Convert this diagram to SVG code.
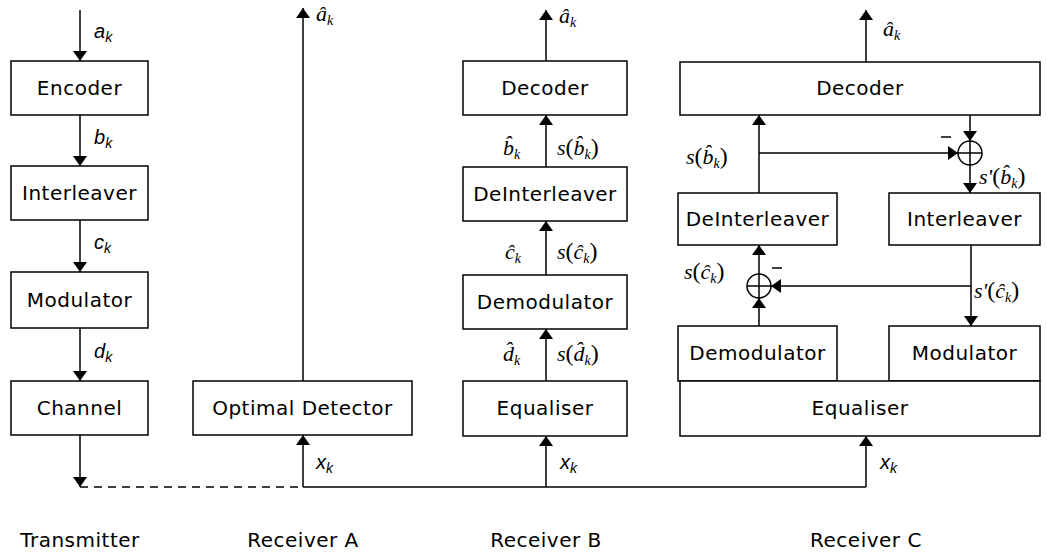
<svg xmlns="http://www.w3.org/2000/svg" width="1047" height="556" viewBox="0 0 1047 556">
<style>
.box{fill:#fff;stroke:#000;stroke-width:1.5}
.ln{fill:none;stroke:#000;stroke-width:1.5}
.ar{fill:none;stroke:#000;stroke-width:1.5;marker-end:url(#ah)}
.t{font-family:"DejaVu Sans",sans-serif;font-size:20px;letter-spacing:0.5px;text-anchor:middle;fill:#000}
.cap{font-family:"DejaVu Sans",sans-serif;font-size:20px;letter-spacing:0.5px;text-anchor:middle;fill:#000}
.v{font-family:"Liberation Sans",sans-serif;font-style:italic;font-size:20px;fill:#000}
.m{font-family:"Liberation Serif",serif;font-style:italic;font-size:22px;fill:#000}
.p{font-style:normal;font-size:24px}
.s{font-size:14px}
</style>
<defs>
<marker id="ah" viewBox="0 0 10 14" refX="10" refY="7" markerWidth="10" markerHeight="14" markerUnits="userSpaceOnUse" orient="auto">
<path d="M0,0 L10,7 L0,14 z" fill="#000"/>
</marker>
</defs>

<g id="connectors">
<path class="ar" d="M80,10 V61"/>
<path class="ar" d="M80,115 V166"/>
<path class="ar" d="M80,220 V272"/>
<path class="ar" d="M80,328 V381"/>
<path class="ar" d="M80,435 V487"/>
<path class="ln" d="M80,487 H303" stroke-dasharray="8,6"/>
<path class="ar" d="M303,487 V435"/>
<path class="ar" d="M303,381 V8"/>
<path class="ln" d="M303,487 H866"/>
<path class="ar" d="M546,487 V436"/>
<path class="ar" d="M546,381 V329"/>
<path class="ar" d="M546,275 V221"/>
<path class="ar" d="M546,167 V115"/>
<path class="ar" d="M546,61 V10"/>
<path class="ar" d="M866,487 V436"/>
<path class="ar" d="M866,62 V10"/>
<path class="ar" d="M759,326 V298"/>
<path class="ar" d="M759,274 V245"/>
<path class="ar" d="M971,245 V326"/>
<path class="ar" d="M971,286 H771"/>
<path class="ar" d="M759,193 V115"/>
<path class="ar" d="M759,153 H958"/>
<path class="ar" d="M970,115 V141"/>
<path class="ar" d="M970,165 V193"/>
<circle class="ln" cx="759" cy="286" r="12"/>
<path class="ln" d="M747,286 H771 M759,274 V298"/>
<path class="ln" d="M772,268 H782"/>
<circle class="ln" cx="970" cy="153" r="12"/>
<path class="ln" d="M958,153 H982 M970,141 V165"/>
<path class="ln" d="M941,137 H951"/>
</g>

<g id="transmitter">
<g id="encoder"><rect class="box" x="11" y="61" width="137" height="54"/><text class="t" x="79.5" y="95">Encoder</text></g>
<g id="interleaver"><rect class="box" x="11" y="166" width="137" height="54"/><text class="t" x="79.5" y="200">Interleaver</text></g>
<g id="modulator"><rect class="box" x="11" y="272" width="137" height="56"/><text class="t" x="79.5" y="307">Modulator</text></g>
<g id="channel"><rect class="box" x="11" y="381" width="137" height="54"/><text class="t" x="79.5" y="415">Channel</text></g>
<text class="v" x="94" y="38">a<tspan class="s" dy="4">k</tspan></text>
<text class="v" x="94" y="144">b<tspan class="s" dy="4">k</tspan></text>
<text class="v" x="94" y="249">c<tspan class="s" dy="4">k</tspan></text>
<text class="v" x="94" y="358">d<tspan class="s" dy="4">k</tspan></text>
</g>

<g id="receiverA">
<g id="optimal-detector"><rect class="box" x="193" y="381" width="219" height="54"/><text class="t" x="302.5" y="415">Optimal Detector</text></g>
<text class="v" x="316" y="469">x<tspan class="s" dy="4">k</tspan></text>
<text class="m" x="316" y="21">â<tspan class="s" dy="4">k</tspan></text>
</g>

<g id="receiverB">
<g id="decoderB"><rect class="box" x="463" y="61" width="164" height="54"/><text class="t" x="545" y="95">Decoder</text></g>
<g id="deinterleaverB"><rect class="box" x="463" y="167" width="164" height="54"/><text class="t" x="545" y="201">DeInterleaver</text></g>
<g id="demodulatorB"><rect class="box" x="463" y="275" width="164" height="54"/><text class="t" x="545" y="309">Demodulator</text></g>
<g id="equaliserB"><rect class="box" x="463" y="381" width="164" height="55"/><text class="t" x="545" y="415">Equaliser</text></g>
<text class="v" x="560" y="469">x<tspan class="s" dy="4">k</tspan></text>
<text class="m" x="559" y="23">â<tspan class="s" dy="4">k</tspan></text>
<text class="m" x="503" y="155">b̂<tspan class="s" dy="4">k</tspan></text>
<text class="m" x="557" y="155">s<tspan class="p">(</tspan>b̂<tspan class="s" dy="4">k</tspan><tspan class="p" dy="-4">)</tspan></text>
<text class="m" x="505" y="259">ĉ<tspan class="s" dy="4">k</tspan></text>
<text class="m" x="557" y="259">s<tspan class="p">(</tspan>ĉ<tspan class="s" dy="4">k</tspan><tspan class="p" dy="-4">)</tspan></text>
<text class="m" x="503" y="361">d̂<tspan class="s" dy="4">k</tspan></text>
<text class="m" x="557" y="361">s<tspan class="p">(</tspan>d̂<tspan class="s" dy="4">k</tspan><tspan class="p" dy="-4">)</tspan></text>
</g>

<g id="receiverC">
<g id="decoderC"><rect class="box" x="680" y="62" width="360" height="53"/><text class="t" x="860" y="95">Decoder</text></g>
<g id="deinterleaverC"><rect class="box" x="678" y="193" width="159" height="52"/><text class="t" x="757.5" y="226">DeInterleaver</text></g>
<g id="interleaverC"><rect class="box" x="889" y="193" width="151" height="52"/><text class="t" x="964.5" y="226">Interleaver</text></g>
<g id="demodulatorC"><rect class="box" x="678" y="326" width="159" height="55"/><text class="t" x="757.5" y="360">Demodulator</text></g>
<g id="modulatorC"><rect class="box" x="889" y="326" width="151" height="55"/><text class="t" x="964.5" y="360">Modulator</text></g>
<g id="equaliserC"><rect class="box" x="680" y="381" width="360" height="55"/><text class="t" x="860" y="415">Equaliser</text></g>
<text class="v" x="880" y="469">x<tspan class="s" dy="4">k</tspan></text>
<text class="m" x="883" y="36">â<tspan class="s" dy="4">k</tspan></text>
<text class="m" x="686" y="164">s<tspan class="p">(</tspan>b̂<tspan class="s" dy="4">k</tspan><tspan class="p" dy="-4">)</tspan></text>
<text class="m" x="979" y="184">s'<tspan class="p">(</tspan>b̂<tspan class="s" dy="4">k</tspan><tspan class="p" dy="-4">)</tspan></text>
<text class="m" x="684" y="279">s<tspan class="p">(</tspan>ĉ<tspan class="s" dy="4">k</tspan><tspan class="p" dy="-4">)</tspan></text>
<text class="m" x="974" y="298">s'<tspan class="p">(</tspan>ĉ<tspan class="s" dy="4">k</tspan><tspan class="p" dy="-4">)</tspan></text>
</g>

<g id="captions">
<text class="cap" x="80" y="547">Transmitter</text>
<text class="cap" x="303" y="547">Receiver A</text>
<text class="cap" x="546" y="547">Receiver B</text>
<text class="cap" x="866" y="547">Receiver C</text>
</g>
</svg>
